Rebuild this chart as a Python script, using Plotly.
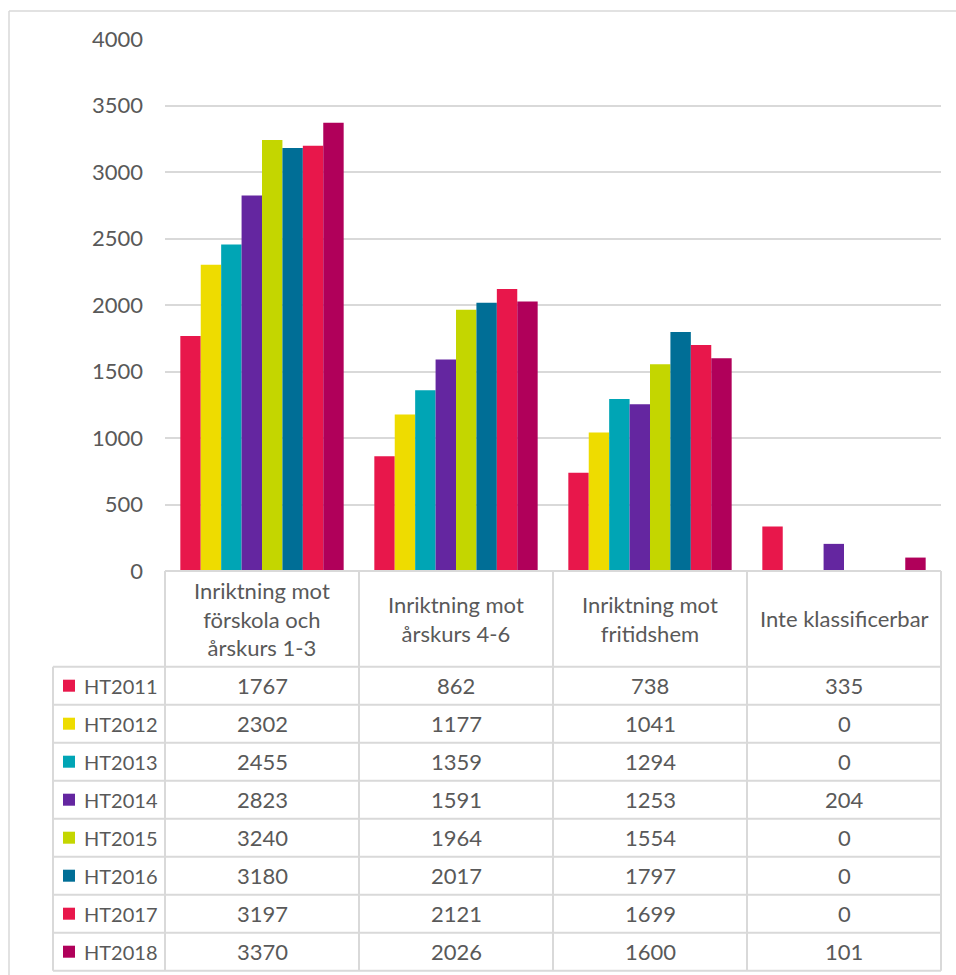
import plotly.graph_objects as go

# Categories (teacher-education orientations)
categories = [
    "Inriktning mot<br>förskola och<br>årskurs 1-3",
    "Inriktning mot<br>årskurs 4-6",
    "Inriktning mot<br>fritidshem",
    "Inte klassificerbar",
]

# Series: one per autumn term
terms = ["HT2011", "HT2012", "HT2013", "HT2014", "HT2015", "HT2016", "HT2017", "HT2018"]
ht2011 = [1767, 862, 738, 335]
ht2012 = [2302, 1177, 1041, 0]
ht2013 = [2455, 1359, 1294, 0]
ht2014 = [2823, 1591, 1253, 204]
ht2015 = [3240, 1964, 1554, 0]
ht2016 = [3180, 2017, 1797, 0]
ht2017 = [3197, 2121, 1699, 0]
ht2018 = [3370, 2026, 1600, 101]
series = [ht2011, ht2012, ht2013, ht2014, ht2015, ht2016, ht2017, ht2018]

colors = ["#E8174B", "#EEDC00", "#00A5B5", "#6426A0",
          "#C4D600", "#006E96", "#E8174B", "#B0005A"]

y_ticks = [0, 500, 1000, 1500, 2000, 2500, 3000, 3500, 4000]

W, H = 956, 975
L, R, T, B = 165, 941, 39, 571          # plot area in pixels
FONT = "Lato, 'Open Sans', sans-serif"
TXT = "#595959"
GRID = "#D9D9D9"
FS = 22        # table / axis text size
FS_KEY = 20    # row label size


def px(x):
    return (x - L) / (R - L)


def py(y):
    return (B - y) / (B - T)


fig = go.Figure()
for name, vals, col in zip(terms, series, colors):
    fig.add_trace(go.Bar(
        x=list(range(len(categories))), y=vals, name=name,
        marker=dict(color=col, line=dict(width=0)),
        showlegend=False,
    ))

shapes = []
annotations = []


def hline(y, x0, x1, width=2, color=GRID):
    shapes.append(dict(type="line", xref="paper", yref="paper",
                       x0=px(x0), x1=px(x1), y0=py(y), y1=py(y),
                       line=dict(color=color, width=width)))


def vline(x, y0, y1, width=2, color=GRID):
    shapes.append(dict(type="line", xref="paper", yref="paper",
                       x0=px(x), x1=px(x), y0=py(y0), y1=py(y1),
                       line=dict(color=color, width=width)))


# Outer chart-area border (top and left edges)
hline(11, 9, 960, width=1.5)
vline(9, 11, 980, width=1.5)

# Data table grid
col_w = (R - L) / len(categories)
col_edges = [L + i * col_w for i in range(len(categories) + 1)]
head_bottom = 666.7
row_h = 38.0
table_bottom = head_bottom + row_h * len(terms)
label_left = 53

hline(B, L, R)
for x in col_edges:
    vline(x, B, table_bottom)
vline(label_left, head_bottom, table_bottom)
for i in range(len(terms) + 1):
    hline(head_bottom + row_h * i, label_left, R)

# Header texts
for i, cat in enumerate(categories):
    annotations.append(dict(
        xref="paper", yref="paper", x=px(col_edges[i] + col_w / 2),
        y=py((B + head_bottom) / 2), text=cat, showarrow=False,
        xanchor="center", yanchor="middle",
        font=dict(family=FONT, size=FS, color=TXT)))

# Rows: legend key, term label, values
for r, (name, vals, col) in enumerate(zip(terms, series, colors)):
    yc = head_bottom + row_h * r + row_h / 2
    shapes.append(dict(type="rect", xref="paper", yref="paper",
                       x0=px(63), x1=px(75), y0=py(yc - 6), y1=py(yc + 6),
                       fillcolor=col, line=dict(width=0)))
    annotations.append(dict(
        xref="paper", yref="paper", x=px(82), y=py(yc), text=name,
        showarrow=False, xanchor="left", yanchor="middle",
        font=dict(family=FONT, size=FS_KEY, color=TXT)))
    for i, v in enumerate(vals):
        annotations.append(dict(
            xref="paper", yref="paper", x=px(col_edges[i] + col_w / 2),
            y=py(yc), text=str(v), showarrow=False,
            xanchor="center", yanchor="middle",
            font=dict(family=FONT, size=FS, color=TXT)))

fig.update_layout(
    width=W, height=H, autosize=False,
    margin=dict(l=L, r=W - R, t=T, b=H - B, pad=0),
    paper_bgcolor="white", plot_bgcolor="white",
    barmode="group", bargap=0.158, bargroupgap=0,
    xaxis=dict(range=[-0.5, len(categories) - 0.5], showticklabels=False,
               showgrid=False, zeroline=False, showline=False, ticks=""),
    yaxis=dict(range=[0, 4000], tickvals=y_ticks,
               ticktext=[str(v) for v in y_ticks],
               showgrid=True, gridcolor=GRID, gridwidth=2,
               zeroline=False, showline=False, ticks="",
               ticklabelstandoff=21,
               tickfont=dict(family=FONT, size=FS, color=TXT)),
    shapes=shapes, annotations=annotations,
    showlegend=False,
)

fig.write_html("out.html")
